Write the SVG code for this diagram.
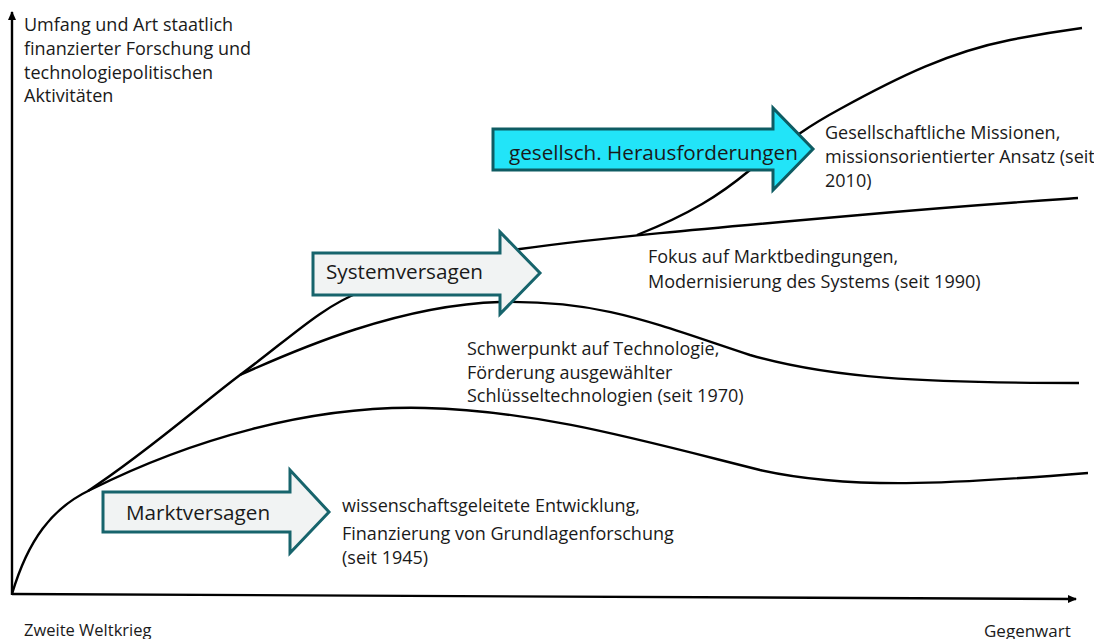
<svg xmlns="http://www.w3.org/2000/svg" width="1094" height="639" viewBox="0 0 1094 639">
<style>
.t{font-family:"Open Sans","Liberation Sans",sans-serif;font-size:18px;fill:#1a1a1a}
.b{font-family:"Open Sans","Liberation Sans",sans-serif;font-size:20.7px;fill:#1a1a1a}
.c{fill:none;stroke:#000;stroke-width:2.4}
.ax{fill:none;stroke:#000;stroke-width:2.4}
.ga{fill:#f1f3f3;stroke:#17646c;stroke-width:3}
.ca{fill:#22e4f8;stroke:#0e5c63;stroke-width:3}
</style>
<defs>
<marker id="ah" markerWidth="10" markerHeight="10" refX="8" refY="5" orient="auto" markerUnits="userSpaceOnUse">
<path d="M0,1 L9,5 L0,9 Z" fill="#000"/>
</marker>
</defs>
<g id="axes">
<line class="ax" x1="12" y1="595" x2="12" y2="12" marker-end="url(#ah)"/>
<line class="ax" x1="12" y1="594" x2="1076" y2="599" marker-end="url(#ah)"/>
</g>
<g id="connectors">
<path class="c" d="M12,594 C28,540 52,508 90,490 C190,440 310,405 425,408 C540,411 640,440 760,470 C850,490 950,484 1088,473"/>
<path class="c" d="M88,491 C150,450 200,405 240,375 C290,338 320,308 360,292 C420,268 470,258 520,249 C600,238 700,229 860,215 C960,206 1020,202 1078,198"/>
<path class="c" d="M240,375 C300,348 400,305 500,302 C600,300 650,322 750,355 C830,378 920,383 1079,383"/>
<path class="c" d="M637,235 C690,214 720,195 750,170 C790,140 805,128 840,109 C900,76 950,52 1010,40 C1040,34 1060,31 1082,28"/>
</g>
<g id="n-marktversagen">
<path class="ga" d="M103,492 L290,492 L290,470 L329,512 L290,553 L290,532 L103,532 Z"/>
<text class="b" x="126" y="520">Marktversagen</text>
</g>
<g id="n-systemversagen">
<path class="ga" d="M313,253 L500,253 L500,232 L540,273 L500,314 L500,295 L313,295 Z"/>
<text class="b" x="326" y="279">Systemversagen</text>
</g>
<g id="n-herausforderungen">
<path class="ca" d="M493,129 L773,129 L773,108 L813,149 L773,190 L773,170 L493,170 Z"/>
<text class="b" x="509" y="160">gesellsch. Herausforderungen</text>
</g>
<g id="n-ylabel">
<text class="t" x="24" y="31">Umfang und Art staatlich</text>
<text class="t" x="24" y="55">finanzierter Forschung und</text>
<text class="t" x="24" y="79">technologiepolitischen</text>
<text class="t" x="24" y="102">Aktivitäten</text>
</g>
<g id="n-1945">
<text class="t" x="342" y="512">wissenschaftsgeleitete Entwicklung,</text>
<text class="t" x="342" y="540">Finanzierung von Grundlagenforschung</text>
<text class="t" x="342" y="564">(seit 1945)</text>
</g>
<g id="n-1970">
<text class="t" x="467" y="355">Schwerpunkt auf Technologie,</text>
<text class="t" x="467" y="379">Förderung ausgewählter</text>
<text class="t" x="467" y="402">Schlüsseltechnologien (seit 1970)</text>
</g>
<g id="n-1990">
<text class="t" x="648" y="263">Fokus auf Marktbedingungen,</text>
<text class="t" x="648" y="288">Modernisierung des Systems (seit 1990)</text>
</g>
<g id="n-2010">
<text class="t" x="825" y="139">Gesellschaftliche Missionen,</text>
<text class="t" x="825" y="163">missionsorientierter Ansatz (seit</text>
<text class="t" x="825" y="187">2010)</text>
</g>
<g id="n-xlabels">
<text class="t" x="24" y="636" style="font-size:16.5px">Zweite Weltkrieg</text>
<text class="t" x="984" y="637" style="font-size:17px">Gegenwart</text>
</g>
</svg>
